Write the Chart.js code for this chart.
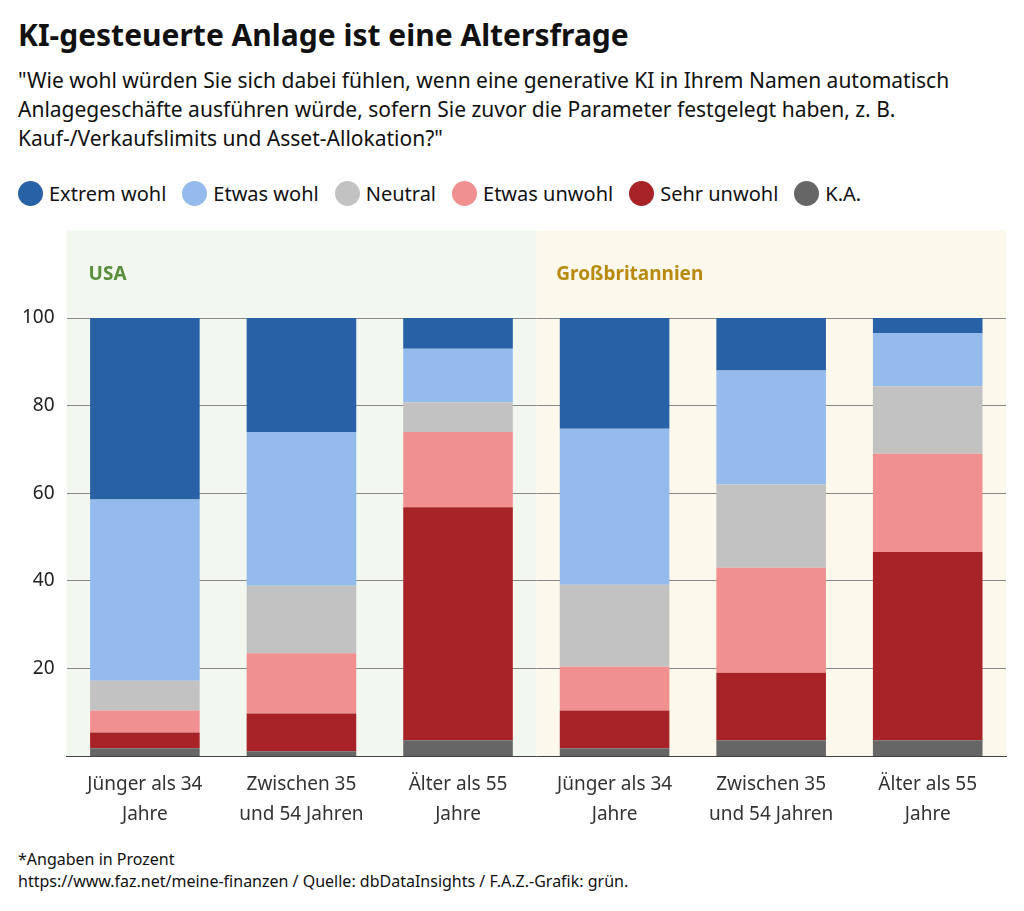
<!DOCTYPE html>
<html><head><meta charset="utf-8">
<script src="https://cdn.jsdelivr.net/npm/chart.js@4"></script>
<style>
body{margin:0;width:1024px;height:911px;font-family:"Source Sans Pro","Noto Sans",sans-serif;background:#fff;color:#111;overflow:hidden}
h1{position:absolute;left:18px;top:14px;margin:0;font-size:30px;font-weight:700}
.sub{position:absolute;left:18px;top:66px;width:990px;font-size:21px;line-height:29px}
.legend{position:absolute;left:18px;top:180px;font-size:20px;display:flex;gap:0}
.legend span{display:flex;align-items:center;margin-right:16px}
.legend i{width:25px;height:25px;border-radius:50%;display:inline-block;margin-right:6px}
.wrap{position:absolute;left:0;top:207px;width:1024px;height:628px}
.foot{position:absolute;left:18px;top:848px;font-size:16px;line-height:22px}
</style></head><body>
<h1>KI-gesteuerte Anlage ist eine Altersfrage</h1>
<div class="sub">"Wie wohl würden Sie sich dabei fühlen, wenn eine generative KI in Ihrem Namen automatisch Anlagegeschäfte ausführen würde, sofern Sie zuvor die Parameter festgelegt haben, z. B. Kauf-/Verkaufslimits und Asset-Allokation?"</div>
<div class="legend" id="legend"></div>
<div class="wrap"><canvas id="chart"></canvas></div>
<div class="foot">*Angaben in Prozent<br>https://www.faz.net/meine-finanzen / Quelle: dbDataInsights / F.A.Z.-Grafik: grün.</div>
<script>
const categories = [['Jünger als 34', 'Jahre'], ['Zwischen 35', 'und 54 Jahren'], ['Älter als 55', 'Jahre'],
                    ['Jünger als 34', 'Jahre'], ['Zwischen 35', 'und 54 Jahren'], ['Älter als 55', 'Jahre']]
const seriesNames = ['K.A.', 'Sehr unwohl', 'Etwas unwohl', 'Neutral', 'Etwas wohl', 'Extrem wohl']
const seriesColors = ['#666666', '#a82327', '#f09090', '#c2c2c2', '#94bbec', '#2861a5']
const kaValues = [1.8, 1.1, 3.6, 1.8, 3.6, 3.6]
const sehrUnwohl = [3.6, 8.6, 53.2, 8.6, 15.4, 43]
const etwasUnwohl = [5, 13.8, 17.2, 10, 24, 22.4]
const neutral = [6.8, 15.4, 6.8, 18.7, 19, 15.4]
const etwasWohl = [41.4, 35.1, 12.2, 35.6, 26, 12.2]
const extremWohl = [41.4, 26, 7, 25.3, 12, 3.4]
const yTicks = [20, 40, 60, 80, 100]

const allValues = [kaValues, sehrUnwohl, etwasUnwohl, neutral, etwasWohl, extremWohl]

// legend in the order shown in the picture
const legend = document.getElementById('legend')
for (let i = seriesNames.length - 1; i >= 0; i--) {
    legend.innerHTML += `<span><i style="background:${seriesColors[i]}"></i>${seriesNames[i]}</span>`
}

const panels = {
    id: 'panels',
    beforeDraw(chart) {
        const { ctx, chartArea, scales } = chart
        const mid = (scales.x.getPixelForValue(2) + scales.x.getPixelForValue(3)) / 2
        const top = scales.y.getPixelForValue(120)
        const bottom = scales.y.getPixelForValue(0)
        ctx.save()
        ctx.fillStyle = '#f2f8f0'
        ctx.fillRect(chartArea.left, top, mid - chartArea.left, bottom - top)
        ctx.fillStyle = '#fcf8ec'
        ctx.fillRect(mid, top, chartArea.right - mid, bottom - top)
        ctx.font = 'bold 19px "Source Sans Pro","Noto Sans",sans-serif'
        ctx.textBaseline = 'middle'
        const ly = scales.y.getPixelForValue(110)
        ctx.fillStyle = '#5a8f3e'
        ctx.fillText('USA', chartArea.left + 22, ly)
        ctx.fillStyle = '#b88a10'
        ctx.fillText('Großbritannien', mid + 20, ly)
        ctx.restore()
    }
}

new Chart(document.getElementById('chart'), {
    type: 'bar',
    data: {
        labels: categories,
        datasets: seriesNames.map((name, i) => ({
            label: name,
            data: allValues[i],
            backgroundColor: seriesColors[i],
            barPercentage: 0.7,
            categoryPercentage: 1
        }))
    },
    options: {
        responsive: true,
        maintainAspectRatio: false,
        animation: false,
        layout: { padding: { left: 10, right: 18 } },
        plugins: { legend: { display: false }, tooltip: { enabled: false } },
        scales: {
            x: {
                stacked: true,
                grid: { display: false },
                border: { color: '#444' },
                ticks: { color: '#333', padding: 6, font: { size: 19, lineHeight: 1.55, family: '"Source Sans Pro","Noto Sans",sans-serif' } }
            },
            y: {
                stacked: true,
                min: 0,
                max: 120,
                afterBuildTicks: axis => { axis.ticks = yTicks.map(v => ({ value: v })) },
                border: { display: false },
                grid: { color: '#888', drawTicks: false },
                ticks: { color: '#222', padding: 12, font: { size: 19, family: '"Source Sans Pro","Noto Sans",sans-serif' } }
            }
        }
    },
    plugins: [panels]
})
</script>
</body></html>
